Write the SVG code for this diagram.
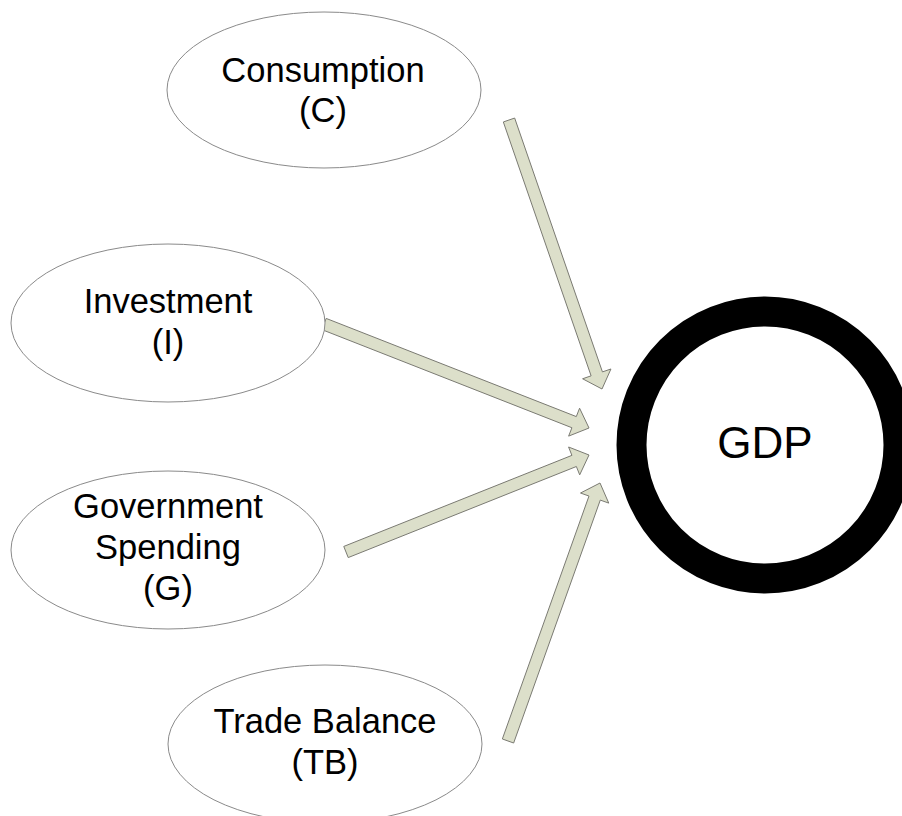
<svg xmlns="http://www.w3.org/2000/svg" width="902" height="816" viewBox="0 0 902 816">
<style>
.node ellipse{fill:#ffffff;stroke:#8a8a8a;stroke-width:1}
.lbl{font-family:"Liberation Sans",Arial,sans-serif;font-size:34.5px;fill:#000;text-anchor:middle}
.arrow{fill:#dcdfca;stroke:#7a7a72;stroke-width:1;stroke-linejoin:miter}
</style>
<rect width="902" height="816" fill="#ffffff"/>
<g id="connectors">
<polygon class="arrow" points="503.33,121.96 591.10,375.84 582.59,378.78 602,389 610.95,368.98 602.44,371.92 514.67,118.04"/>
<polygon class="arrow" points="321.81,329.58 571.92,427.74 568.63,436.12 589,428 579.59,408.20 576.30,416.58 326.19,318.42"/>
<polygon class="arrow" points="348.22,557.57 576.36,466.50 579.70,474.86 589,455 568.58,447.00 571.92,455.36 343.78,546.43"/>
<polygon class="arrow" points="513.65,743.02 600.28,500.09 608.76,503.11 600,483 580.50,493.03 588.98,496.05 502.35,738.98"/>
</g>
<g id="consumption" class="node">
<ellipse cx="324" cy="90" rx="157" ry="78"/>
<text class="lbl" x="323" y="82">Consumption</text>
<text class="lbl" x="323" y="122">(C)</text>
</g>
<g id="investment" class="node">
<ellipse cx="168" cy="323" rx="157" ry="79"/>
<text class="lbl" x="168" y="313">Investment</text>
<text class="lbl" x="168" y="354">(I)</text>
</g>
<g id="government" class="node">
<ellipse cx="168" cy="550" rx="157" ry="79"/>
<text class="lbl" x="168" y="518">Government</text>
<text class="lbl" x="168" y="559">Spending</text>
<text class="lbl" x="168" y="600">(G)</text>
</g>
<g id="trade" class="node">
<ellipse cx="325" cy="744" rx="157" ry="79"/>
<text class="lbl" x="325" y="733">Trade Balance</text>
<text class="lbl" x="325" y="774">(TB)</text>
</g>
<g id="gdp">
<circle cx="765" cy="445" r="133.5" fill="#ffffff" stroke="#000000" stroke-width="30"/>
<text x="765" y="458" font-family="'Liberation Sans',Arial,sans-serif" font-size="44" text-anchor="middle" fill="#000">GDP</text>
</g>
</svg>
